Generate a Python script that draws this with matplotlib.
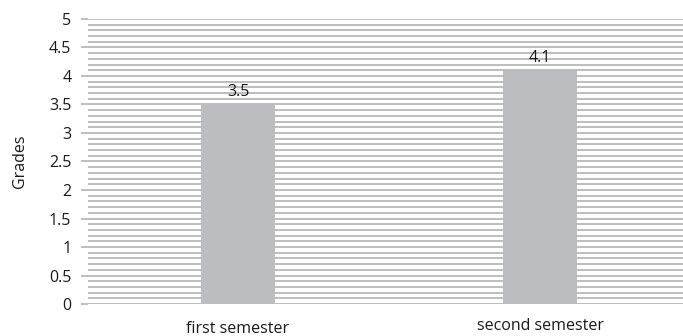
import matplotlib.pyplot as plt
import matplotlib.transforms as mtrans
from matplotlib.ticker import MultipleLocator

semesters = ['first semester', 'second semester']
grades = [3.5, 4.1]

plt.rcParams['font.family'] = ['Open Sans', 'DejaVu Sans']

fig = plt.figure(figsize=(6.83, 3.36), dpi=100)
ax = fig.add_axes([0.1288, 0.0952, 0.8712, 0.8483])

x = list(range(len(semesters)))
bars = ax.bar(x, grades, width=0.248, color='#bcbdc0', zorder=3)

# value labels above bars
for xi, g in zip(x, grades):
    ax.annotate(str(g), (xi, g), xytext=(0, 3), textcoords='offset points',
                ha='center', va='bottom', fontsize=11.5, color='#1a1a1a')

ax.set_xlim(-0.497, 1.4735)
ax.set_ylim(0, 5)
ax.yaxis.set_major_locator(MultipleLocator(0.5))
ax.yaxis.set_minor_locator(MultipleLocator(0.1))
ax.yaxis.set_major_formatter(lambda v, p: f'{v:g}')

ax.grid(axis='y', which='both', color='#ababab', linewidth=1.1, zorder=0)
ax.set_axisbelow(True)
for s in ax.spines.values():
    s.set_visible(False)

ax.tick_params(axis='y', which='major', length=5, width=1.1, color='#ababab',
               pad=7, labelsize=11.5, labelcolor='#1a1a1a')
ax.tick_params(axis='y', which='minor', length=0)
ax.set_xticks(x)
ax.set_xticklabels(semesters)
ax.tick_params(axis='x', length=0, pad=10, labelsize=11.5, labelcolor='#1a1a1a')

# first label sits a bit lower
lbl = ax.get_xticklabels()[0]
lbl.set_transform(lbl.get_transform() + mtrans.ScaledTranslation(0, -2 / 72, fig.dpi_scale_trans))

ax.set_ylabel('Grades', fontsize=11.5, color='#1a1a1a')
ax.yaxis.set_label_coords(-0.1, 0.5)

fig.savefig('out.png', dpi=100)
